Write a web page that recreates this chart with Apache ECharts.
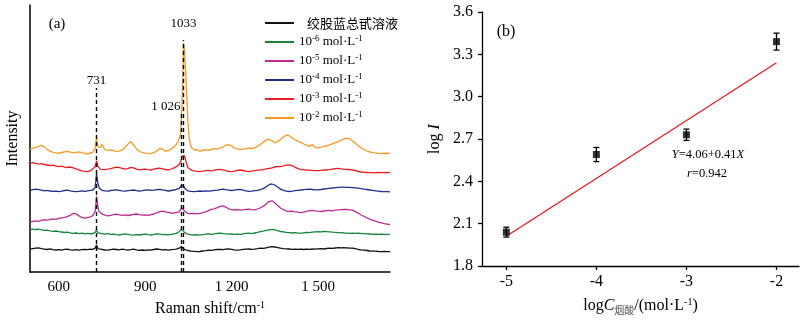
<!DOCTYPE html>
<html>
<head>
<meta charset="utf-8">
<script src="https://cdn.jsdelivr.net/npm/echarts@6/dist/echarts.min.js"></script>
<style>
html, body { margin: 0; padding: 0; background: #fff; }
#chart { width: 800px; height: 321px; }
</style>
</head>
<body>
<div id="chart"></div>
<script>
// ---------- (a) Raman spectra ----------
const ramanShift = [
  500, 510, 520, 530, 540, 550, 560, 570, 580, 590, 600, 610, 620, 630, 640, 650, 660, 670, 680, 690, 700, 710,
  718, 722, 726, 729, 731, 733, 736, 740, 745,
  750, 760, 770, 780, 790, 800, 810, 820, 830, 840, 850, 860, 870, 880, 890, 900, 910, 920, 930, 940, 950, 960, 970, 980, 990, 1000,
  1008, 1014, 1018, 1022, 1026, 1029, 1033, 1036, 1040, 1044, 1048, 1053, 1060,
  1070, 1080, 1090, 1100, 1110, 1120, 1130, 1140, 1150, 1160,
  1170, 1180, 1190, 1200, 1210, 1220, 1230, 1240, 1250, 1260,
  1270, 1280, 1290, 1300, 1310, 1320, 1330, 1340, 1350, 1360,
  1370, 1380, 1390, 1400, 1410, 1420, 1430, 1440, 1450, 1460,
  1470, 1480, 1490, 1500, 1510, 1520, 1530, 1540, 1550, 1560,
  1570, 1580, 1590, 1600, 1610, 1620, 1630, 1640, 1650, 1660,
  1670, 1680, 1690, 1700, 1710, 1720, 1730, 1740, 1750
];

// 绞股蓝总甙溶液 (offset intensities, a.u.)
const intensityBlank = [
  22.8, 23.4, 23.9, 24.2, 23.3, 22.9, 22.5, 23.1, 22.4, 22.0, 22.3, 21.8, 22.6, 22.9, 22.2, 21.9, 22.4, 21.8, 22.3, 22.7, 22.4, 22.9,
  22.6, 23.0, 23.8, 25.6, 27.0, 25.4, 23.2, 22.6, 22.9,
  22.3, 22.0, 21.8, 22.4, 22.9, 22.5, 22.1, 22.8, 22.3, 21.9, 22.4, 22.8, 22.2, 21.7, 22.0, 21.6, 22.1, 21.9, 22.5, 23.0, 22.6, 22.1, 22.4, 21.9, 22.3, 22.6,
  22.9, 23.2, 23.8, 24.6, 25.6, 24.5, 23.2, 22.6, 22.2, 21.8, 21.5, 21.2, 20.9,
  20.6, 20.3, 20.5, 21.0, 21.4, 21.9, 21.6, 22.1, 22.5, 22.7,
  22.3, 22.8, 23.1, 22.7, 22.2, 21.9, 22.2, 22.6, 22.9, 23.0,
  22.6, 22.9, 23.3, 23.8, 23.6, 24.2, 24.8, 25.4, 25.0, 24.4,
  23.8, 23.4, 23.1, 23.0, 22.7, 22.9, 22.6, 22.8, 22.5, 22.9,
  22.7, 23.0, 22.8, 23.1, 23.3, 23.0, 23.5, 23.8, 23.6, 24.0,
  24.3, 24.1, 24.4, 24.2, 23.8, 23.9, 23.4, 22.5, 22.1, 21.8,
  21.5, 21.0, 20.8, 20.9, 20.5, 20.4, 20.6, 20.3, 20.4
];
// 10^-6 mol/L
const intensityE6 = [
  42.2, 42.8, 42.4, 43.0, 42.1, 41.6, 41.9, 41.2, 40.6, 41.0, 40.3, 40.0, 39.5, 39.9, 39.2, 38.6, 39.0, 38.4, 38.9, 38.2, 38.6, 38.1,
  38.5, 38.8, 39.6, 41.0, 42.2, 40.8, 39.1, 38.4, 38.7,
  38.2, 37.8, 38.3, 37.6, 37.9, 37.3, 37.0, 37.6, 38.1, 37.7, 37.2, 36.9, 37.4, 37.0, 37.5, 37.9, 37.4, 37.0, 37.6, 38.2, 37.8, 37.3, 37.6, 37.1, 37.7, 38.2,
  38.6, 39.2, 40.3, 42.1, 42.6, 41.4, 40.6, 39.8, 38.9, 38.3, 37.9, 37.6, 37.2,
  37.0, 37.4, 36.9, 37.3, 37.8, 38.2, 37.7, 38.1, 38.6, 38.9,
  38.4, 38.1, 37.8, 38.2, 37.6, 37.9, 37.7, 38.2, 38.6, 38.9,
  38.4, 39.0, 39.6, 40.4, 40.9, 41.6, 42.1, 42.6, 42.2, 41.3,
  40.5, 40.1, 39.7, 39.4, 39.0, 39.3, 38.8, 38.9, 39.2, 39.5,
  39.3, 39.8, 40.1, 40.4, 40.2, 40.5, 40.3, 40.1, 39.8, 39.6,
  39.3, 39.4, 39.0, 38.9, 38.7, 38.9, 38.6, 38.8, 38.5, 38.3,
  38.1, 38.0, 37.7, 37.9, 37.6, 37.8, 37.5, 37.7, 37.6
];
// 10^-5 mol/L
const intensityE5 = [
  49.8, 50.6, 51.2, 50.7, 51.6, 52.3, 51.8, 52.6, 53.1, 52.7, 53.6, 54.2, 54.6, 55.3, 56.8, 58.6, 58.2, 56.1, 54.5, 53.9, 54.4, 55.2,
  56.4, 57.6, 60.5, 68.0, 76.0, 71.5, 64.2, 60.6, 58.9,
  58.1, 56.9, 56.2, 56.7, 57.3, 57.8, 57.2, 56.6, 57.1, 56.5, 57.0, 57.6, 58.0, 57.4, 56.9, 57.2, 56.6, 57.3, 58.0, 59.1, 60.4, 60.9, 60.1, 59.6, 59.0, 58.8,
  59.6, 59.1, 60.2, 62.0, 63.9, 63.4, 62.2, 61.0, 60.1, 59.2, 58.4, 58.0, 58.3,
  58.6, 58.2, 58.7, 59.3, 60.2, 61.4, 62.6, 63.2, 64.3, 65.6,
  66.1, 64.9, 63.2, 62.4, 62.0, 62.3, 61.8, 62.2, 62.6, 62.9,
  62.4, 62.1, 63.0, 64.2, 65.8, 67.9, 70.4, 71.2, 69.3, 66.4,
  64.0, 62.3, 61.0, 60.6, 60.9, 60.2, 59.8, 59.4, 59.9, 60.6,
  61.4, 61.7, 61.2, 60.8, 60.5, 61.0, 61.3, 61.6, 61.2, 61.8,
  62.1, 62.3, 62.5, 62.6, 62.2, 61.8, 60.4, 58.7, 57.0, 55.5,
  54.1, 52.8, 51.7, 50.8, 49.9, 49.1, 48.4, 47.9, 47.4
];
// 10^-4 mol/L
const intensityE4 = [
  81.6, 82.3, 82.9, 82.4, 81.8, 81.2, 81.7, 81.0, 80.6, 80.9, 80.4, 80.8, 81.5, 81.9, 81.2, 80.7, 80.3, 80.6, 81.1, 80.7, 81.2, 81.6,
  82.0, 82.6, 84.2, 91.5, 98.6, 94.0, 88.4, 84.1, 82.3,
  81.7, 81.2, 80.9, 81.5, 81.9, 82.2, 81.6, 81.1, 80.8, 81.3, 81.7, 82.0, 81.4, 80.9, 81.3, 81.8, 82.1, 81.6, 81.9, 82.4, 82.7, 82.2, 81.6, 81.0, 81.5, 82.0,
  82.6, 82.9, 83.6, 84.9, 86.4, 87.6, 86.0, 84.2, 82.7, 81.8, 81.2, 80.9, 80.6,
  80.3, 80.7, 81.0, 80.6, 81.1, 80.8, 81.2, 81.6, 81.9, 82.4,
  82.8, 82.3, 81.9, 81.5, 81.9, 82.3, 82.6, 81.9, 81.2, 80.6,
  80.9, 81.3, 81.6, 82.3, 83.4, 85.2, 87.3, 88.0, 87.0, 85.0,
  82.9, 81.6, 80.9, 80.5, 80.8, 81.3, 81.7, 82.0, 82.4, 82.6,
  82.8, 82.5, 82.2, 82.1, 82.5, 83.0, 83.4, 83.7, 84.0, 84.3,
  84.6, 84.8, 84.9, 84.7, 84.6, 84.4, 84.1, 83.8, 83.4, 82.9,
  82.5, 82.0, 81.6, 81.2, 80.8, 80.5, 80.3, 80.4, 80.2
];
// 10^-3 mol/L
const intensityE3 = [
  108.8, 109.4, 108.6, 107.9, 108.3, 107.5, 107.0, 106.4, 106.8, 105.9, 105.3, 105.8, 104.9, 104.5, 105.0, 104.2, 103.1, 102.0, 101.2, 100.6, 100.4, 101.3,
  103.2, 103.9, 105.0, 108.4, 111.2, 109.0, 105.6, 103.6, 102.6,
  102.0, 102.4, 102.8, 103.3, 104.1, 104.8, 104.5, 103.6, 102.8, 103.4, 104.6, 104.1, 102.9, 102.1, 102.6, 102.9, 102.3, 102.0, 102.8, 103.5, 103.8, 103.2, 102.5, 102.1, 103.0, 104.2,
  105.3, 106.2, 107.5, 109.6, 112.5, 115.8, 117.8, 116.4, 112.6, 108.2, 104.6, 102.8, 101.8,
  101.2, 100.7, 100.4, 100.8, 101.3, 101.6, 101.2, 101.8, 102.3, 102.7,
  102.1, 101.4, 100.6, 100.4, 100.9, 101.6, 102.0, 101.5, 100.8, 100.4,
  100.9, 101.4, 101.9, 102.0, 102.4, 103.1, 103.5, 104.2, 105.0, 105.6,
  105.4, 106.1, 106.9, 107.2, 106.4, 104.8, 103.3, 102.6, 102.2, 102.0,
  101.9, 101.6, 101.4, 101.3, 101.7, 102.1, 102.0, 102.3, 102.8, 103.3,
  103.6, 103.2, 102.9, 102.7, 102.5, 102.0, 101.3, 100.5, 100.0, 99.7,
  99.5, 99.3, 99.4, 99.2, 99.5, 99.3, 99.6, 99.4, 99.7
];
// 10^-2 mol/L
const intensityE2 = [
  122.9, 123.8, 124.6, 125.5, 126.8, 125.1, 122.4, 120.9, 119.6, 119.2, 118.7, 119.5, 120.2, 120.6, 119.8, 119.1, 119.6, 120.1, 119.4, 118.5, 118.2, 119.0,
  119.6, 120.4, 123.5, 130.2, 134.5, 130.6, 125.2, 123.4, 124.6,
  127.8, 122.5, 121.6, 122.2, 121.4, 120.6, 120.9, 122.1, 124.3, 127.8, 130.4, 126.9, 123.2, 120.5, 119.6, 118.9, 118.6, 118.4, 119.3, 121.0, 123.6, 122.8, 120.9, 121.5, 122.8, 124.9,
  127.6, 130.4, 133.2, 137.0, 155.0, 180.0, 228.5, 224.0, 203.0, 178.0, 152.0, 133.0, 124.5,
  122.5, 121.8, 120.9, 121.5, 122.3, 121.7, 122.6, 123.3, 122.9, 123.8,
  125.2, 126.8, 127.4, 126.1, 123.9, 123.2, 122.6, 122.9, 123.4, 123.9,
  123.5, 124.1, 125.6, 127.5, 129.8, 131.9, 132.6, 131.4, 129.1, 130.6,
  132.4, 134.9, 136.8, 136.3, 134.1, 132.2, 130.8, 129.6, 128.1, 126.9,
  125.6, 127.5, 124.6, 124.1, 124.9, 125.4, 126.0, 127.1, 128.2, 129.3,
  130.2, 131.6, 133.0, 133.8, 133.2, 131.0, 128.9, 126.2, 124.1, 122.5,
  121.2, 120.0, 119.4, 119.1, 118.7, 118.4, 118.8, 118.5, 118.7
];

const spectrumNames = ['绞股蓝总甙溶液', '10^-6 mol·L^-1', '10^-5 mol·L^-1', '10^-4 mol·L^-1', '10^-3 mol·L^-1', '10^-2 mol·L^-1'];
const spectrumColors = ['#111111', '#17853b', '#bd2b90', '#202d8c', '#ec1c24', '#f59a25'];
const spectra = [intensityBlank, intensityE6, intensityE5, intensityE4, intensityE3, intensityE2];

const peakShifts = [731, 1026, 1033];
const peakLineTops = [184, 159, 232];
const peakLabels = ['731', '1 026', '1033'];
const shiftTicks = [600, 900, 1200, 1500];

// ---------- (b) calibration ----------
const logConc = [-5, -4, -3, -2];
const logIntensity = [2.04, 2.59, 2.73, 3.39];
const logIntensityErr = [0.035, 0.05, 0.04, 0.06];
const fitIntercept = 4.06;
const fitSlope = 0.41;
const fitR = 0.942;
const fitRange = [-5, -2];
const logConcTicks = [-5, -4, -3, -2];

const serif = "'Liberation Serif', 'Times New Roman', serif";
const cjk = "'Noto Sans CJK SC', sans-serif";

const baseRich = {
  n: { fontFamily: serif, fontSize: 13, color: '#000', lineHeight: 16 },
  sup: { fontFamily: serif, fontSize: 9, color: '#000', lineHeight: 8, verticalAlign: 'top' },
  cn: { fontFamily: cjk, fontSize: 13, color: '#000', lineHeight: 16, padding: [0, 0, 0, 8] }
};

function legendText(name) {
  const m = name.match(/^10\^(-?\d+) mol·L\^(-?\d+)$/);
  if (!m) return '{cn|' + name + '}';
  return '{n|10}{sup|' + m[1] + '}{n| mol·L}{sup|' + m[2] + '}';
}

function shiftLabel(v) {
  const s = String(v);
  return s.length > 3 ? s.slice(0, s.length - 3) + ' ' + s.slice(-3) : s;
}

const chart = echarts.init(document.getElementById('chart'), null, { renderer: 'canvas' });

const spectrumSeries = spectra.map((vals, i) => ({
  name: spectrumNames[i],
  type: 'line',
  xAxisIndex: 0,
  yAxisIndex: 0,
  data: ramanShift.map((x, j) => [x, vals[j]]),
  showSymbol: false,
  symbol: 'none',
  lineStyle: { color: spectrumColors[i], width: 1.3 },
  itemStyle: { color: spectrumColors[i] },
  z: 2 + i * 0.01,
  silent: true
}));

const peakMarkerSeries = {
  name: 'peaks',
  type: 'line',
  xAxisIndex: 0,
  yAxisIndex: 0,
  data: [],
  z: 5,
  markLine: {
    silent: true,
    symbol: ['none', 'none'],
    animation: false,
    lineStyle: { color: '#000', width: 1.4, type: [4, 3] },
    label: {
      show: true, position: 'end', color: '#000',
      fontFamily: serif, fontSize: 13
    },
    data: peakShifts.map((x, i) => [
      {
        coord: [x, 0],
        label: {
          formatter: peakLabels[i],
          distance: i === 2 ? 10 : (i === 1 ? 0 : 1),
          padding: i === 1 ? [0, 31, 0, 0] : 0
        }
      },
      { coord: [x, peakLineTops[i]] }
    ])
  }
};

const errorBarSeries = {
  type: 'custom',
  xAxisIndex: 1,
  yAxisIndex: 1,
  data: logConc.map((x, i) => [x, logIntensity[i] - logIntensityErr[i], logIntensity[i] + logIntensityErr[i]]),
  encode: { x: 0, y: [1, 2] },
  silent: true,
  z: 3,
  renderItem(params, api) {
    const x = api.value(0);
    const lo = api.coord([x, api.value(1)]);
    const hi = api.coord([x, api.value(2)]);
    const cap = 3;
    const st = { stroke: '#000', lineWidth: 1.3 };
    return {
      type: 'group',
      children: [
        { type: 'line', shape: { x1: lo[0], y1: lo[1], x2: hi[0], y2: hi[1] }, style: st },
        { type: 'line', shape: { x1: hi[0] - cap, y1: hi[1], x2: hi[0] + cap, y2: hi[1] }, style: st },
        { type: 'line', shape: { x1: lo[0] - cap, y1: lo[1], x2: lo[0] + cap, y2: lo[1] }, style: st }
      ]
    };
  }
};

const pointSeries = {
  type: 'scatter',
  xAxisIndex: 1,
  yAxisIndex: 1,
  data: logConc.map((x, i) => [x, logIntensity[i]]),
  symbol: 'rect',
  symbolSize: 7,
  itemStyle: { color: '#000' },
  silent: true,
  z: 4
};

const fitSeries = {
  type: 'line',
  xAxisIndex: 1,
  yAxisIndex: 1,
  data: fitRange.map(x => [x, fitIntercept + fitSlope * x]),
  symbol: 'none',
  lineStyle: { color: '#e3161d', width: 1.2 },
  silent: true,
  z: 2
};

const option = {
  animation: false,
  backgroundColor: '#fff',
  textStyle: { fontFamily: serif },
  grid: [
    { left: 30, top: 5, width: 360, height: 267, outerBoundsMode: 'none' },
    { left: 482, top: 12, width: 317, height: 254, outerBoundsMode: 'none' }
  ],
  legend: {
    orient: 'vertical',
    left: 265,
    top: 15,
    padding: 0,
    itemWidth: 29,
    itemHeight: 2,
    itemGap: 3,
    icon: 'rect',
    selectedMode: false,
    data: spectrumNames,
    formatter: legendText,
    textStyle: { color: '#000', fontFamily: serif, fontSize: 13, lineHeight: 16, rich: baseRich }
  },
  xAxis: [
    {
      type: 'value', gridIndex: 0, min: 500, max: 1750,
      axisLine: { onZero: false, lineStyle: { color: '#000', width: 1.5 } },
      axisTick: { show: false },
      splitLine: { show: false },
      axisLabel: {
        customValues: shiftTicks, formatter: shiftLabel,
        color: '#000', fontFamily: serif, fontSize: 15, margin: 8
      },
      name: '{t|Raman shift/cm}{s|-1}',
      nameLocation: 'middle',
      nameGap: 28,
      nameMoveOverlap: false,
      nameTextStyle: {
        rich: {
          t: { fontFamily: serif, fontSize: 16, color: '#000', lineHeight: 18 },
          s: { fontFamily: serif, fontSize: 10, color: '#000', lineHeight: 10, verticalAlign: 'top' }
        }
      }
    },
    {
      type: 'value', gridIndex: 1, min: -5.27, max: -1.75,
      axisLine: { onZero: false, lineStyle: { color: '#000', width: 1.3 } },
      axisTick: { customValues: logConcTicks, length: 4, lineStyle: { color: '#000', width: 1.3 } },
      splitLine: { show: false },
      axisLabel: {
        customValues: logConcTicks,
        color: '#000', fontFamily: serif, fontSize: 16, margin: 8
      },
      name: '{t|log}{i|C}{sub|烟酸}{t|/(mol·L}{s|-1}{t|)}',
      nameLocation: 'middle',
      nameGap: 31,
      nameMoveOverlap: false,
      nameTextStyle: {
        rich: {
          t: { fontFamily: serif, fontSize: 16, color: '#000', lineHeight: 18 },
          i: { fontFamily: serif, fontSize: 16, color: '#000', lineHeight: 18, fontStyle: 'italic' },
          sub: { fontFamily: cjk, fontSize: 10, color: '#555', lineHeight: 12, verticalAlign: 'bottom' },
          s: { fontFamily: serif, fontSize: 10, color: '#000', lineHeight: 10, verticalAlign: 'top' }
        }
      }
    }
  ],
  yAxis: [
    {
      type: 'value', gridIndex: 0, min: 0, max: 267,
      axisLine: { show: true, onZero: false, lineStyle: { color: '#000', width: 1.5 } },
      axisTick: { show: false },
      axisLabel: { show: false },
      splitLine: { show: false },
      name: 'Intensity',
      nameLocation: 'middle',
      nameRotate: 90,
      nameGap: 9,
      nameMoveOverlap: false,
      nameTextStyle: { fontFamily: serif, fontSize: 16, color: '#000' }
    },
    {
      type: 'value', gridIndex: 1, min: 1.8, max: 3.6, interval: 0.3,
      axisLine: { show: true, onZero: false, lineStyle: { color: '#000', width: 1.3 } },
      axisTick: { show: true, length: 4, lineStyle: { color: '#000', width: 1.3 } },
      splitLine: { show: false },
      axisLabel: {
        color: '#000', fontFamily: serif, fontSize: 16, margin: 9,
        formatter: v => v.toFixed(1)
      },
      name: '{t|log }{i|I}',
      nameLocation: 'middle',
      nameRotate: 90,
      nameGap: 38,
      nameMoveOverlap: false,
      nameTextStyle: {
        rich: {
          t: { fontFamily: serif, fontSize: 16, color: '#000', lineHeight: 18 },
          i: { fontFamily: serif, fontSize: 16, color: '#000', lineHeight: 18, fontStyle: 'italic' }
        }
      }
    }
  ],
  graphic: [
    { type: 'text', x: 57, y: 24, style: { text: '(a)', fontFamily: serif, fontSize: 15, fill: '#000', align: 'center', verticalAlign: 'middle' } },
    { type: 'text', x: 506, y: 32, style: { text: '(b)', fontFamily: serif, fontSize: 16, fill: '#000', align: 'center', verticalAlign: 'middle' } },
    {
      type: 'text', x: 708, y: 155,
      style: {
        text: '{i|Y}{n|=' + fitIntercept.toFixed(2) + '+' + fitSlope.toFixed(2) + '}{i|X}',
        align: 'center', verticalAlign: 'middle',
        rich: {
          n: { fontFamily: serif, fontSize: 12.5, fill: '#000' },
          i: { fontFamily: serif, fontSize: 12.5, fill: '#000', fontStyle: 'italic' }
        }
      }
    },
    {
      type: 'text', x: 707, y: 174,
      style: {
        text: '{i|r}{n|=' + fitR.toFixed(3) + '}',
        align: 'center', verticalAlign: 'middle',
        rich: {
          n: { fontFamily: serif, fontSize: 12.5, fill: '#000' },
          i: { fontFamily: serif, fontSize: 12.5, fill: '#000', fontStyle: 'italic' }
        }
      }
    }
  ],
  series: [...spectrumSeries, peakMarkerSeries, fitSeries, errorBarSeries, pointSeries]
};

chart.setOption(option);
</script>
</body>
</html>
